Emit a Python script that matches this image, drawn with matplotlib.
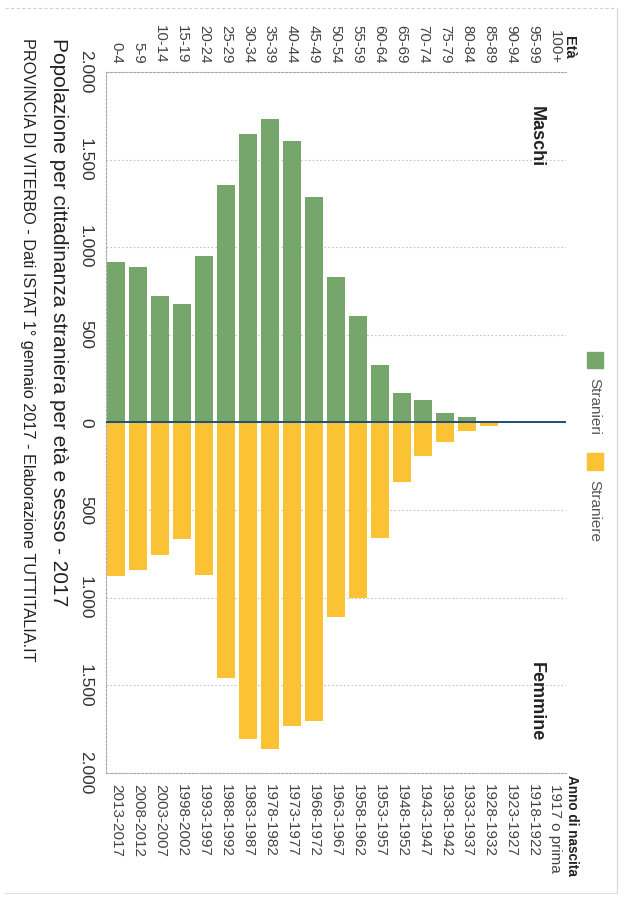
import matplotlib
matplotlib.use('Agg')
import matplotlib.pyplot as plt
from matplotlib.patches import Rectangle
from matplotlib.lines import Line2D

plt.rcParams['font.family'] = ['Liberation Sans', 'DejaVu Sans']

# eta' e anno di nascita (dal piu' giovane al piu' anziano)
ages = ['0-4', '5-9', '10-14', '15-19', '20-24', '25-29', '30-34', '35-39', '40-44',
        '45-49', '50-54', '55-59', '60-64', '65-69', '70-74', '75-79', '80-84',
        '85-89', '90-94', '95-99', '100+']
births = ['2013-2017', '2008-2012', '2003-2007', '1998-2002', '1993-1997', '1988-1992',
          '1983-1987', '1978-1982', '1973-1977', '1968-1972', '1963-1967', '1958-1962',
          '1953-1957', '1948-1952', '1943-1947', '1938-1942', '1933-1937', '1928-1932',
          '1923-1927', '1918-1922', '1917 o prima']
maschi = [914, 886, 719, 677, 951, 1356, 1648, 1732, 1608, 1284, 833, 606, 330, 168,
          130, 57, 29, 7, 2, 1, 0]
femmine = [875, 842, 755, 665, 871, 1458, 1804, 1863, 1730, 1702, 1108, 1000, 660, 342,
           191, 109, 46, 19, 5, 2, 0]
ticks = [-2000, -1500, -1000, -500, 0, 500, 1000, 1500, 2000]

GREEN = '#76a66c'
YELLOW = '#fbc234'
W, H = 626, 899

def fx(px):
    return px / W

def fy(py):
    return 1 - py / H

fig = plt.figure(figsize=(W / 100, H / 100), dpi=100)
ax = fig.add_axes([fx(105.5), fy(773), fx(566) - fx(105.5), fy(72) - fy(773)])

x = list(range(len(ages)))
ax.bar(x, maschi, width=0.82, color=GREEN, zorder=2)
ax.bar(x, [-v for v in femmine], width=0.82, color=YELLOW, zorder=2)
ax.axhline(0, color='#1d4f7a', lw=1.4, zorder=3)

ax.set_xlim(-0.5, len(ages) - 0.5)
ax.set_ylim(-2000, 2000)
ax.set_yticks(ticks)
ax.set_yticklabels(['{:,}'.format(abs(t)).replace(',', '.') for t in ticks],
                   rotation=-90, va='center', ha='right', fontsize=12.5, color='#333333')
ax.set_xticks(x)
ax.set_xticklabels(births, rotation=-90, va='top', ha='center', fontsize=11, color='#444444')
ax.tick_params(length=0, pad=8)
ax.tick_params(axis='y', pad=9)

top = ax.secondary_xaxis('top')
top.set_xticks(x)
top.set_xticklabels(ages, rotation=-90, va='bottom', ha='center', fontsize=10.8, color='#444444')
top.tick_params(length=0, pad=6)
top.spines['top'].set_visible(False)

for t in ticks:
    if t not in (0, -2000, 2000):
        ax.axhline(t, color='#c4c4c4', lw=0.8, ls=(0, (1.5, 2)), zorder=1)
for s in ['top', 'bottom', 'left']:
    ax.spines[s].set_color('#a8a8a8')
    ax.spines[s].set_linestyle((0, (2, 1.5)))
    ax.spines[s].set_linewidth(0.8)
ax.spines['right'].set_visible(False)

# etichette intestazioni
fig.text(fx(569), fy(47), 'Età', rotation=-90, ha='center', va='center',
         fontsize=10.5, fontweight='bold', color='#222222')
fig.text(fx(572), fy(775), 'Anno di nascita', rotation=-90, ha='center', va='top',
         fontsize=9.8, fontweight='bold', color='#222222')
fig.text(fx(536), fy(106), 'Maschi', rotation=-90, ha='center', va='top',
         fontsize=13, fontweight='bold', color='#222222')
fig.text(fx(536), fy(662), 'Femmine', rotation=-90, ha='center', va='top',
         fontsize=13, fontweight='bold', color='#222222')

# titolo
fig.text(fx(58), fy(38), 'Popolazione per cittadinanza straniera per età e sesso - 2017',
         rotation=-90, ha='center', va='top', fontsize=15, color='#222222')
fig.text(fx(27), fy(38),
         'PROVINCIA DI VITERBO - Dati ISTAT 1° gennaio 2017 - Elaborazione TUTTITALIA.IT',
         rotation=-90, ha='center', va='top', fontsize=11.7, color='#222222')

# legenda
fig.add_artist(Rectangle((fx(587), fy(368)), fx(16), fy(352) - fy(368),
                         transform=fig.transFigure, color=GREEN))
fig.add_artist(Rectangle((fx(587), fy(470)), fx(16), fy(453) - fy(470),
                         transform=fig.transFigure, color=YELLOW))
fig.text(fx(594), fy(378), 'Stranieri', rotation=-90, ha='center', va='top',
         fontsize=11, color='#555555')
fig.text(fx(594), fy(480), 'Straniere', rotation=-90, ha='center', va='top',
         fontsize=11, color='#555555')

# bordo pagina
fig.add_artist(Line2D([fx(5), fx(617)], [fy(8), fy(8)], transform=fig.transFigure,
                      color='#d0d0d0', lw=0.8, ls=(0, (3, 2))))
fig.add_artist(Line2D([fx(617), fx(617)], [fy(8), fy(893)], transform=fig.transFigure,
                      color='#d8d8d8', lw=0.8))
fig.add_artist(Line2D([fx(5), fx(617)], [fy(893), fy(893)], transform=fig.transFigure,
                      color='#dddddd', lw=0.8))

fig.savefig('out.png', dpi=100)
